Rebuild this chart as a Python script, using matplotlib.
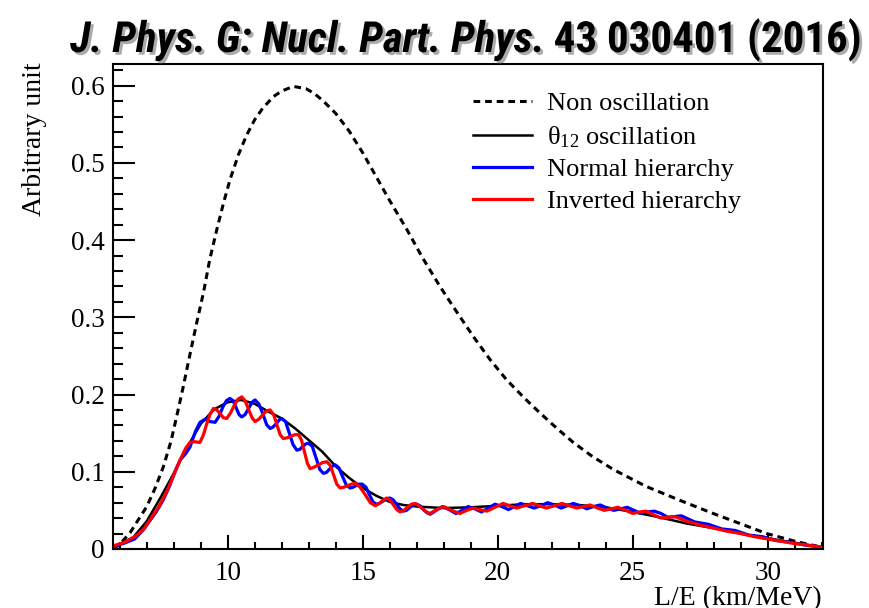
import matplotlib
matplotlib.use("Agg")
import matplotlib.pyplot as plt
import matplotlib.patheffects as pe
from matplotlib import font_manager
from matplotlib.ticker import MultipleLocator, FuncFormatter

plt.rcParams['font.family'] = 'Liberation Serif'
plt.rcParams['mathtext.fontset'] = 'custom'
plt.rcParams['mathtext.rm'] = 'Liberation Serif'
plt.rcParams['mathtext.it'] = 'Liberation Serif:italic'

# values, L/E in km/MeV, y in arbitrary units
le_nonosc = [5.76, 6.0, 6.38, 7.0, 7.3, 7.62, 7.9, 8.11, 8.35, 8.6, 8.85, 9.1, 9.34, 9.59,
             9.85, 10.09, 10.4, 10.7, 11.0, 11.3, 11.7, 12.0, 12.43, 12.9, 13.2, 13.54,
             14.0, 14.5, 15.0, 15.5, 16.0, 16.63, 17.2, 17.86, 18.5, 19.1, 19.7, 20.33,
             21.0, 21.57, 22.2, 22.8, 23.5, 24.28, 25.5, 26.75, 27.98, 29.2, 29.96,
             31.07, 32.05]
y_nonosc = [0.0, 0.006, 0.021, 0.055, 0.078, 0.107, 0.140, 0.172, 0.210, 0.252, 0.293,
            0.332, 0.376, 0.413, 0.449, 0.479, 0.511, 0.536, 0.556, 0.571, 0.586, 0.593,
            0.599, 0.596, 0.590, 0.580, 0.564, 0.541, 0.513, 0.482, 0.451, 0.414, 0.378,
            0.340, 0.306, 0.275, 0.246, 0.219, 0.195, 0.176, 0.156, 0.138, 0.120, 0.103,
            0.081, 0.063, 0.046, 0.030, 0.020, 0.0095, 0.002]

le_theta12 = [5.76, 6.0, 6.5, 7.0, 7.5, 8.0, 8.5, 9.0, 9.5, 10.0, 10.5, 11.0, 11.5, 12.0,
              12.5, 13.0, 13.5, 14.0, 14.5, 15.0, 15.5, 16.0, 16.5, 17.0, 18.0, 19.0,
              20.0, 21.0, 22.0, 23.0, 24.0, 25.0, 26.0, 27.0, 28.0, 29.0, 30.0, 31.0, 32.05]
y_theta12 = [0.004, 0.006, 0.015, 0.036, 0.066, 0.098, 0.132, 0.162, 0.181, 0.190, 0.193,
             0.188, 0.178, 0.169, 0.156, 0.141, 0.126, 0.107, 0.092, 0.079, 0.069, 0.061,
             0.057, 0.055, 0.053, 0.054, 0.056, 0.058, 0.058, 0.057, 0.054, 0.048, 0.041,
             0.033, 0.027, 0.020, 0.014, 0.008, 0.002]

le_normal = [5.76, 6.2, 6.55, 6.85, 7.1, 7.35, 7.6, 7.85, 8.0, 8.23, 8.45, 8.6, 8.8, 8.97,
             9.16, 9.35, 9.53, 9.68, 9.82, 9.95, 10.08, 10.2, 10.32, 10.42, 10.52, 10.64,
             10.77, 10.9, 11.01, 11.15, 11.3, 11.44, 11.57, 11.68, 11.79, 11.9, 12.0, 12.14,
             12.28, 12.42, 12.56, 12.67, 12.78, 12.89, 12.99, 13.13, 13.27, 13.41, 13.54,
             13.65, 13.76, 13.87, 13.98, 14.12, 14.25, 14.39, 14.53, 14.64, 14.75, 14.86,
             14.98, 15.12, 15.25, 15.38, 15.5, 15.62, 15.75, 15.88, 16.0, 16.12, 16.25,
             16.38, 16.5, 16.62, 16.75, 16.88, 17.0, 17.12, 17.25, 17.38, 17.5, 17.72,
             17.95, 18.2, 18.45, 18.68, 18.9, 19.15, 19.4, 19.65, 19.9, 20.15, 20.4, 20.62,
             20.85, 21.1, 21.35, 21.6, 21.85, 22.1, 22.35, 22.58, 22.8, 23.05, 23.3, 23.55,
             23.8, 24.05, 24.3, 24.55, 24.8, 25.05, 25.3, 25.55, 25.8, 26.05, 26.3, 26.55,
             26.8, 27.3, 27.8, 28.3, 28.8, 29.3, 29.8, 30.3, 30.8, 31.4, 32.05]
y_normal = [0.003, 0.008, 0.013, 0.024, 0.036, 0.048, 0.063, 0.082, 0.096, 0.115, 0.124,
            0.132, 0.152, 0.164, 0.168, 0.165, 0.164, 0.172, 0.184, 0.192, 0.195, 0.192,
            0.182, 0.174, 0.171, 0.174, 0.182, 0.190, 0.193, 0.188, 0.175, 0.161, 0.156,
            0.158, 0.162, 0.167, 0.169, 0.165, 0.150, 0.135, 0.128, 0.129, 0.133, 0.136,
            0.137, 0.133, 0.118, 0.103, 0.098, 0.099, 0.103, 0.107, 0.109, 0.105, 0.094,
            0.083, 0.079, 0.080, 0.082, 0.084, 0.084, 0.080, 0.070, 0.061, 0.058, 0.059,
            0.062, 0.065, 0.066, 0.064, 0.058, 0.052, 0.049, 0.050, 0.054, 0.057, 0.058,
            0.056, 0.051, 0.047, 0.045, 0.050, 0.055, 0.051, 0.046, 0.050, 0.055, 0.052,
            0.048, 0.053, 0.058, 0.055, 0.051, 0.055, 0.059, 0.056, 0.053, 0.056, 0.060,
            0.057, 0.053, 0.056, 0.059, 0.056, 0.052, 0.055, 0.057, 0.053, 0.050, 0.052,
            0.054, 0.050, 0.046, 0.048, 0.049, 0.046, 0.041, 0.042, 0.043, 0.035, 0.032,
            0.026, 0.024, 0.018, 0.016, 0.011, 0.009, 0.005, 0.002]

le_inverted = [5.76, 6.2, 6.6, 6.9, 7.2, 7.45, 7.75, 8.0, 8.23, 8.45, 8.6, 8.75, 8.97, 9.1,
               9.22, 9.35, 9.47, 9.6, 9.72, 9.84, 9.96, 10.1, 10.24, 10.38, 10.52, 10.64,
               10.77, 10.9, 11.01, 11.15, 11.3, 11.44, 11.57, 11.7, 11.82, 11.94, 12.06,
               12.2, 12.35, 12.48, 12.62, 12.73, 12.84, 12.95, 13.05, 13.2, 13.36, 13.52,
               13.67, 13.8, 13.92, 14.04, 14.16, 14.3, 14.44, 14.58, 14.72, 14.9, 15.1,
               15.28, 15.46, 15.57, 15.68, 15.79, 15.89, 16.02, 16.14, 16.26, 16.38, 16.52,
               16.66, 16.8, 16.94, 17.08, 17.22, 17.36, 17.49, 17.74, 17.99, 18.3, 18.6,
               18.85, 19.1, 19.35, 19.6, 19.9, 20.2, 20.45, 20.7, 21.0, 21.3, 21.55, 21.8,
               22.1, 22.38, 22.65, 22.93, 23.18, 23.42, 23.7, 23.95, 24.2, 24.45, 24.75,
               25.0, 25.25, 25.5, 25.8, 26.05, 26.3, 26.55, 27.0, 27.5, 28.0, 28.5, 29.0,
               29.5, 30.0, 30.5, 31.0, 31.5, 32.05]
y_inverted = [0.004, 0.009, 0.017, 0.026, 0.042, 0.055, 0.075, 0.096, 0.115, 0.131, 0.138,
              0.139, 0.138, 0.148, 0.162, 0.175, 0.182, 0.180, 0.175, 0.170, 0.169, 0.176,
              0.186, 0.194, 0.197, 0.192, 0.181, 0.170, 0.165, 0.168, 0.174, 0.179, 0.180,
              0.174, 0.161, 0.148, 0.143, 0.144, 0.146, 0.148, 0.148, 0.141, 0.126, 0.111,
              0.104, 0.106, 0.109, 0.112, 0.113, 0.108, 0.096, 0.084, 0.079, 0.080, 0.082,
              0.084, 0.085, 0.080, 0.070, 0.060, 0.056, 0.058, 0.061, 0.064, 0.066, 0.063,
              0.057, 0.051, 0.048, 0.050, 0.054, 0.058, 0.059, 0.056, 0.052, 0.048, 0.046,
              0.051, 0.055, 0.050, 0.046, 0.050, 0.053, 0.051, 0.049, 0.054, 0.059, 0.056,
              0.053, 0.056, 0.059, 0.056, 0.053, 0.056, 0.059, 0.056, 0.053, 0.055, 0.057,
              0.053, 0.050, 0.052, 0.054, 0.050, 0.046, 0.048, 0.049, 0.044, 0.040, 0.041,
              0.042, 0.036, 0.031, 0.027, 0.023, 0.020, 0.016, 0.013, 0.010, 0.007, 0.005,
              0.002]

labels = ['Non oscillation', r'θ$_{12}$ oscillation', 'Normal hierarchy', 'Inverted hierarchy']
title_journal = 'J. Phys. G: Nucl. Part. Phys.'
title_ref = '43 030401 (2016)'

# a narrow sans for the Calibri-like title, if one is around
have = {f.name for f in font_manager.fontManager.ttflist}
title_font = 'Lato'
for name in ['Liberation Sans Narrow', 'Roboto Condensed', 'Open Sans Condensed']:
    if name in have:
        title_font = name
        break

W, H = 869, 608
fig = plt.figure(figsize=(W / 100, H / 100), dpi=100)
ax = fig.add_axes([113.3 / W, 1 - 549 / H, (823 - 113.3) / W, (549 - 64) / H])

ax.plot(le_nonosc, y_nonosc, color='black', lw=2.2, dashes=(2.2, 1.6), label=labels[0])
ax.plot(le_theta12, y_theta12, color='black', lw=1.8, label=labels[1])
ax.plot(le_normal, y_normal, color='#0000ff', lw=2.3, label=labels[2], solid_joinstyle='round')
ax.plot(le_inverted, y_inverted, color='#ff0000', lw=2.3, label=labels[3], solid_joinstyle='round')

ax.set_xlim(5.76, 32.05)
ax.set_ylim(0, 0.628)
ax.xaxis.set_major_locator(MultipleLocator(5))
ax.xaxis.set_minor_locator(MultipleLocator(1))
ax.yaxis.set_major_locator(MultipleLocator(0.1))
ax.yaxis.set_minor_locator(MultipleLocator(0.02))
ax.yaxis.set_major_formatter(FuncFormatter(lambda v, p: '0' if abs(v) < 1e-9 else '%.1f' % v))
ax.tick_params(axis='both', which='both', direction='in', width=1.5, labelsize=19.5)
ax.tick_params(axis='x', which='major', length=10, pad=9)
ax.tick_params(axis='x', which='minor', length=5)
ax.tick_params(axis='y', which='major', length=16, pad=6)
ax.tick_params(axis='y', which='minor', length=7.5)
for s in ax.spines.values():
    s.set_linewidth(1.5)

fig.text(35 / W, 1 - 62 / H, 'Arbitrary unit', rotation=90, ha='center', va='top', fontsize=20)
fig.text(822 / W, 1 - 586 / H, 'L/E (km/MeV)', ha='right', va='top', fontsize=20)

ax.legend(loc='upper left', bbox_to_anchor=(473 / W, 1 - 92 / H), bbox_transform=fig.transFigure,
          frameon=False, fontsize=19, handlelength=2.25, handletextpad=0.55,
          labelspacing=0.32, borderpad=0, borderaxespad=0)

# title in two styles with a soft drop shadow, fitted to the reference width
shadow = [pe.withSimplePatchShadow(offset=(2, -2), shadow_rgbFace='0.35', alpha=0.5)]
r = fig.canvas.get_renderer()
fs = 30
t1 = fig.text(70 / W, 1 - 52 / H, title_journal, fontsize=fs, fontweight='bold', style='italic',
              family=title_font, va='baseline', path_effects=shadow)
t2 = fig.text(0, 1 - 52 / H, title_ref, fontsize=fs, fontweight='bold',
              family=title_font, va='baseline', path_effects=shadow)
b1 = t1.get_window_extent(r)
t2.set_x((b1.x1 + fs * 0.3) / W)
b2 = t2.get_window_extent(r)
fs = fs * (862 - 70) / (b2.x1 - b1.x0)
t1.set_fontsize(fs)
t2.set_fontsize(fs)
b1 = t1.get_window_extent(r)
t2.set_x((b1.x1 + fs * 0.3) / W)

fig.savefig('out.png', dpi=100)
